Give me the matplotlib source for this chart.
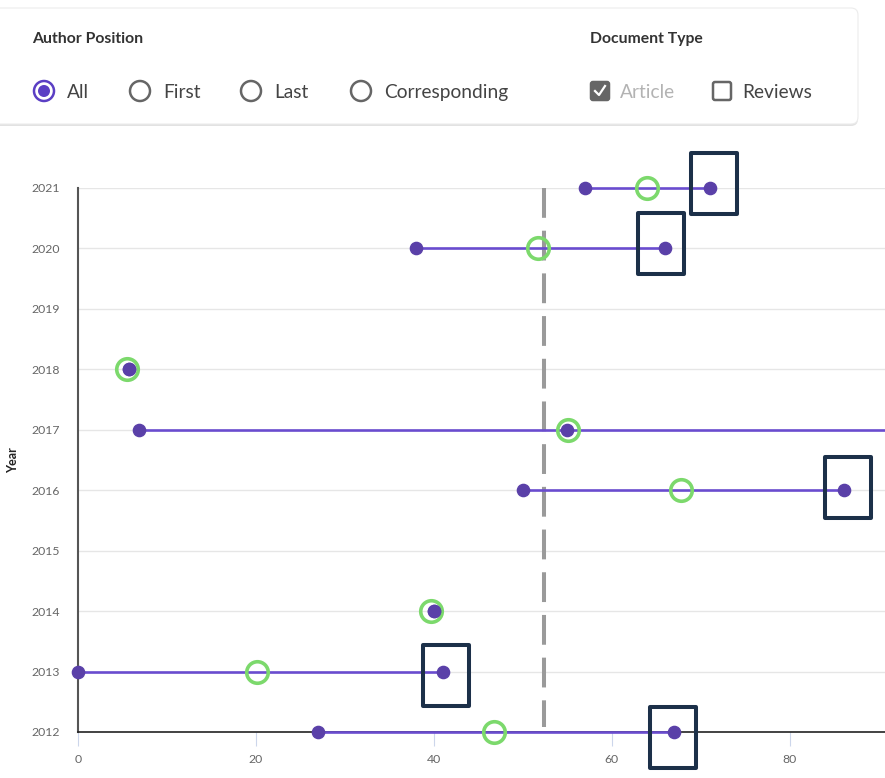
import matplotlib
matplotlib.use("Agg")
import matplotlib.pyplot as plt
from matplotlib.patches import Rectangle, FancyBboxPatch, Circle

plt.rcParams["font.family"] = ["Lato", "DejaVu Sans"]

# ---- data -----------------------------------------------------------------------------------
years = [2021, 2020, 2018, 2017, 2016, 2014, 2013, 2012]
lo    = [57.0, 38.0, 5.7, 6.9, 50.0, 40.0, 0.0, 27.0]     # left purple dot
mid   = [64.0, 51.7, 5.5, 55.1, 67.8, 39.7, 20.1, 46.7]   # green ring
hi    = [71.0, 66.0, 5.7, 95.0, 86.1, 40.0, 41.0, 67.0]   # right purple dot
inner_years = [2017]                                      # purple dot sitting in the ring
inner_vals  = [55.0]
boxed = [2021, 2020, 2016, 2013, 2012]                    # highlighted maxima
ref_x = 52.4                                              # dashed reference line
xticks = [0, 20, 40, 60, 80]
yticks = list(range(2012, 2022))

radio_opts = ["All", "First", "Last", "Corresponding"]
doc_opts = ["Article", "Reviews"]

PURPLE, LINE, GREEN, NAVY, GREY = "#5a40a8", "#6a4ccf", "#7cd96c", "#1c3049", "#9a9a9a"
# hand-drawn highlight boxes are a bit off-centre: (dx, dy) in data units
BOX_OFF = {2021: (0.45, 0.07), 2020: (-0.45, 0.08), 2016: (0.45, 0.05),
           2013: (0.35, -0.07), 2012: (-0.15, -0.09)}
BOX_W, BOX_H = 5.17, 1.01

fig = plt.figure(figsize=(8.85, 7.78), dpi=100)

# ---- UI panel (pixel coordinates) -----------------------------------------------------------
ui = fig.add_axes([0, 0, 1, 1]); ui.set_xlim(0, 885); ui.set_ylim(778, 0); ui.axis("off")
ui.add_patch(FancyBboxPatch((-20, 10), 878, 116, boxstyle="round,pad=0,rounding_size=7",
                            fc="#cfcfcf", ec="none", alpha=.6))
ui.add_patch(FancyBboxPatch((-20, 8), 878, 116, boxstyle="round,pad=0,rounding_size=7",
                            fc="white", ec="#ececec", lw=0.8))
ui.text(32, 39, "Author Position", fontsize=11.3, fontweight="bold", color="#333", va="center")
ui.text(590, 39, "Document Type", fontsize=11.3, fontweight="bold", color="#333", va="center")
for cx, lab in zip([44, 140, 251, 361], radio_opts):
    sel = lab == "All"
    ui.add_patch(Circle((cx, 91), 10, fc="white", ec="#5b3fc4" if sel else "#666", lw=1.8))
    if sel: ui.add_patch(Circle((cx, 91), 6, fc="#5b3fc4", ec="none"))
    ui.text(cx + 23, 92, lab, fontsize=13.8, color="#444", va="center")
for cx, lab in zip([600, 722], doc_opts):
    chk = lab == "Article"
    ui.add_patch(FancyBboxPatch((cx - 9, 82), 18, 18, boxstyle="round,pad=0,rounding_size=2",
                                fc="#666" if chk else "white", ec="#666", lw=1.8))
    if chk: ui.plot([cx - 5, cx - 1, cx + 5], [91, 95, 86], color="white", lw=1.6)
    ui.text(cx + 20, 92, lab, fontsize=13.8, color="#b3b3b3" if chk else "#444", va="center")

# ---- chart --------------------------------------------------------------------------------
ax = fig.add_axes([78 / 885, 46 / 778, 1 - 78 / 885, 544 / 778])
ax.patch.set_alpha(0)
ax.set_xlim(0, 90.7); ax.set_ylim(2012, 2021)
for y in yticks:
    ax.axhline(y, color="#e6e6e6", lw=1, zorder=0)
ax.plot([ref_x, ref_x], [2021, 2012.08], color=GREY, lw=2.9, dashes=(7.4, 3.2), zorder=1)
for y, a, m, b in zip(years, lo, mid, hi):
    ax.plot([a, b], [y, y], color=LINE, lw=1.9, zorder=3, clip_on=False)
    ax.plot(m, y, "o", ms=15.5, mfc="none", mec=GREEN, mew=2.6, zorder=4, clip_on=False)
    ax.plot([a, b], [y, y], "o", ms=8.8, color=PURPLE, lw=0, zorder=5, clip_on=False)
    if y in boxed:
        dx, dy = BOX_OFF[y]
        ax.add_patch(Rectangle((b + dx - BOX_W / 2, y + dy - BOX_H / 2), BOX_W, BOX_H,
                               fill=False, ec=NAVY, lw=2.9, joinstyle="round",
                               zorder=6, clip_on=False))
ax.plot(inner_vals, inner_years, "o", ms=8.8, color=PURPLE, lw=0, zorder=5)
ax.set_xticks(xticks); ax.set_yticks(yticks)
ax.tick_params(axis="x", length=10, color="#ccd6eb", labelsize=8.8, labelcolor="#666", pad=6)
ax.tick_params(axis="y", length=0, labelsize=8.8, labelcolor="#666", pad=13)
for s in ("top", "right"): ax.spines[s].set_visible(False)
ax.spines["left"].set_color("#555"); ax.spines["left"].set_linewidth(1.5)
ax.spines["bottom"].set_color("#222"); ax.spines["bottom"].set_linewidth(1.2)
ax.set_ylabel("Year", fontsize=9, fontweight="bold", color="#222")
ax.yaxis.set_label_coords(-59 / 807, 0.5)

fig.savefig("out.png", dpi=100)
